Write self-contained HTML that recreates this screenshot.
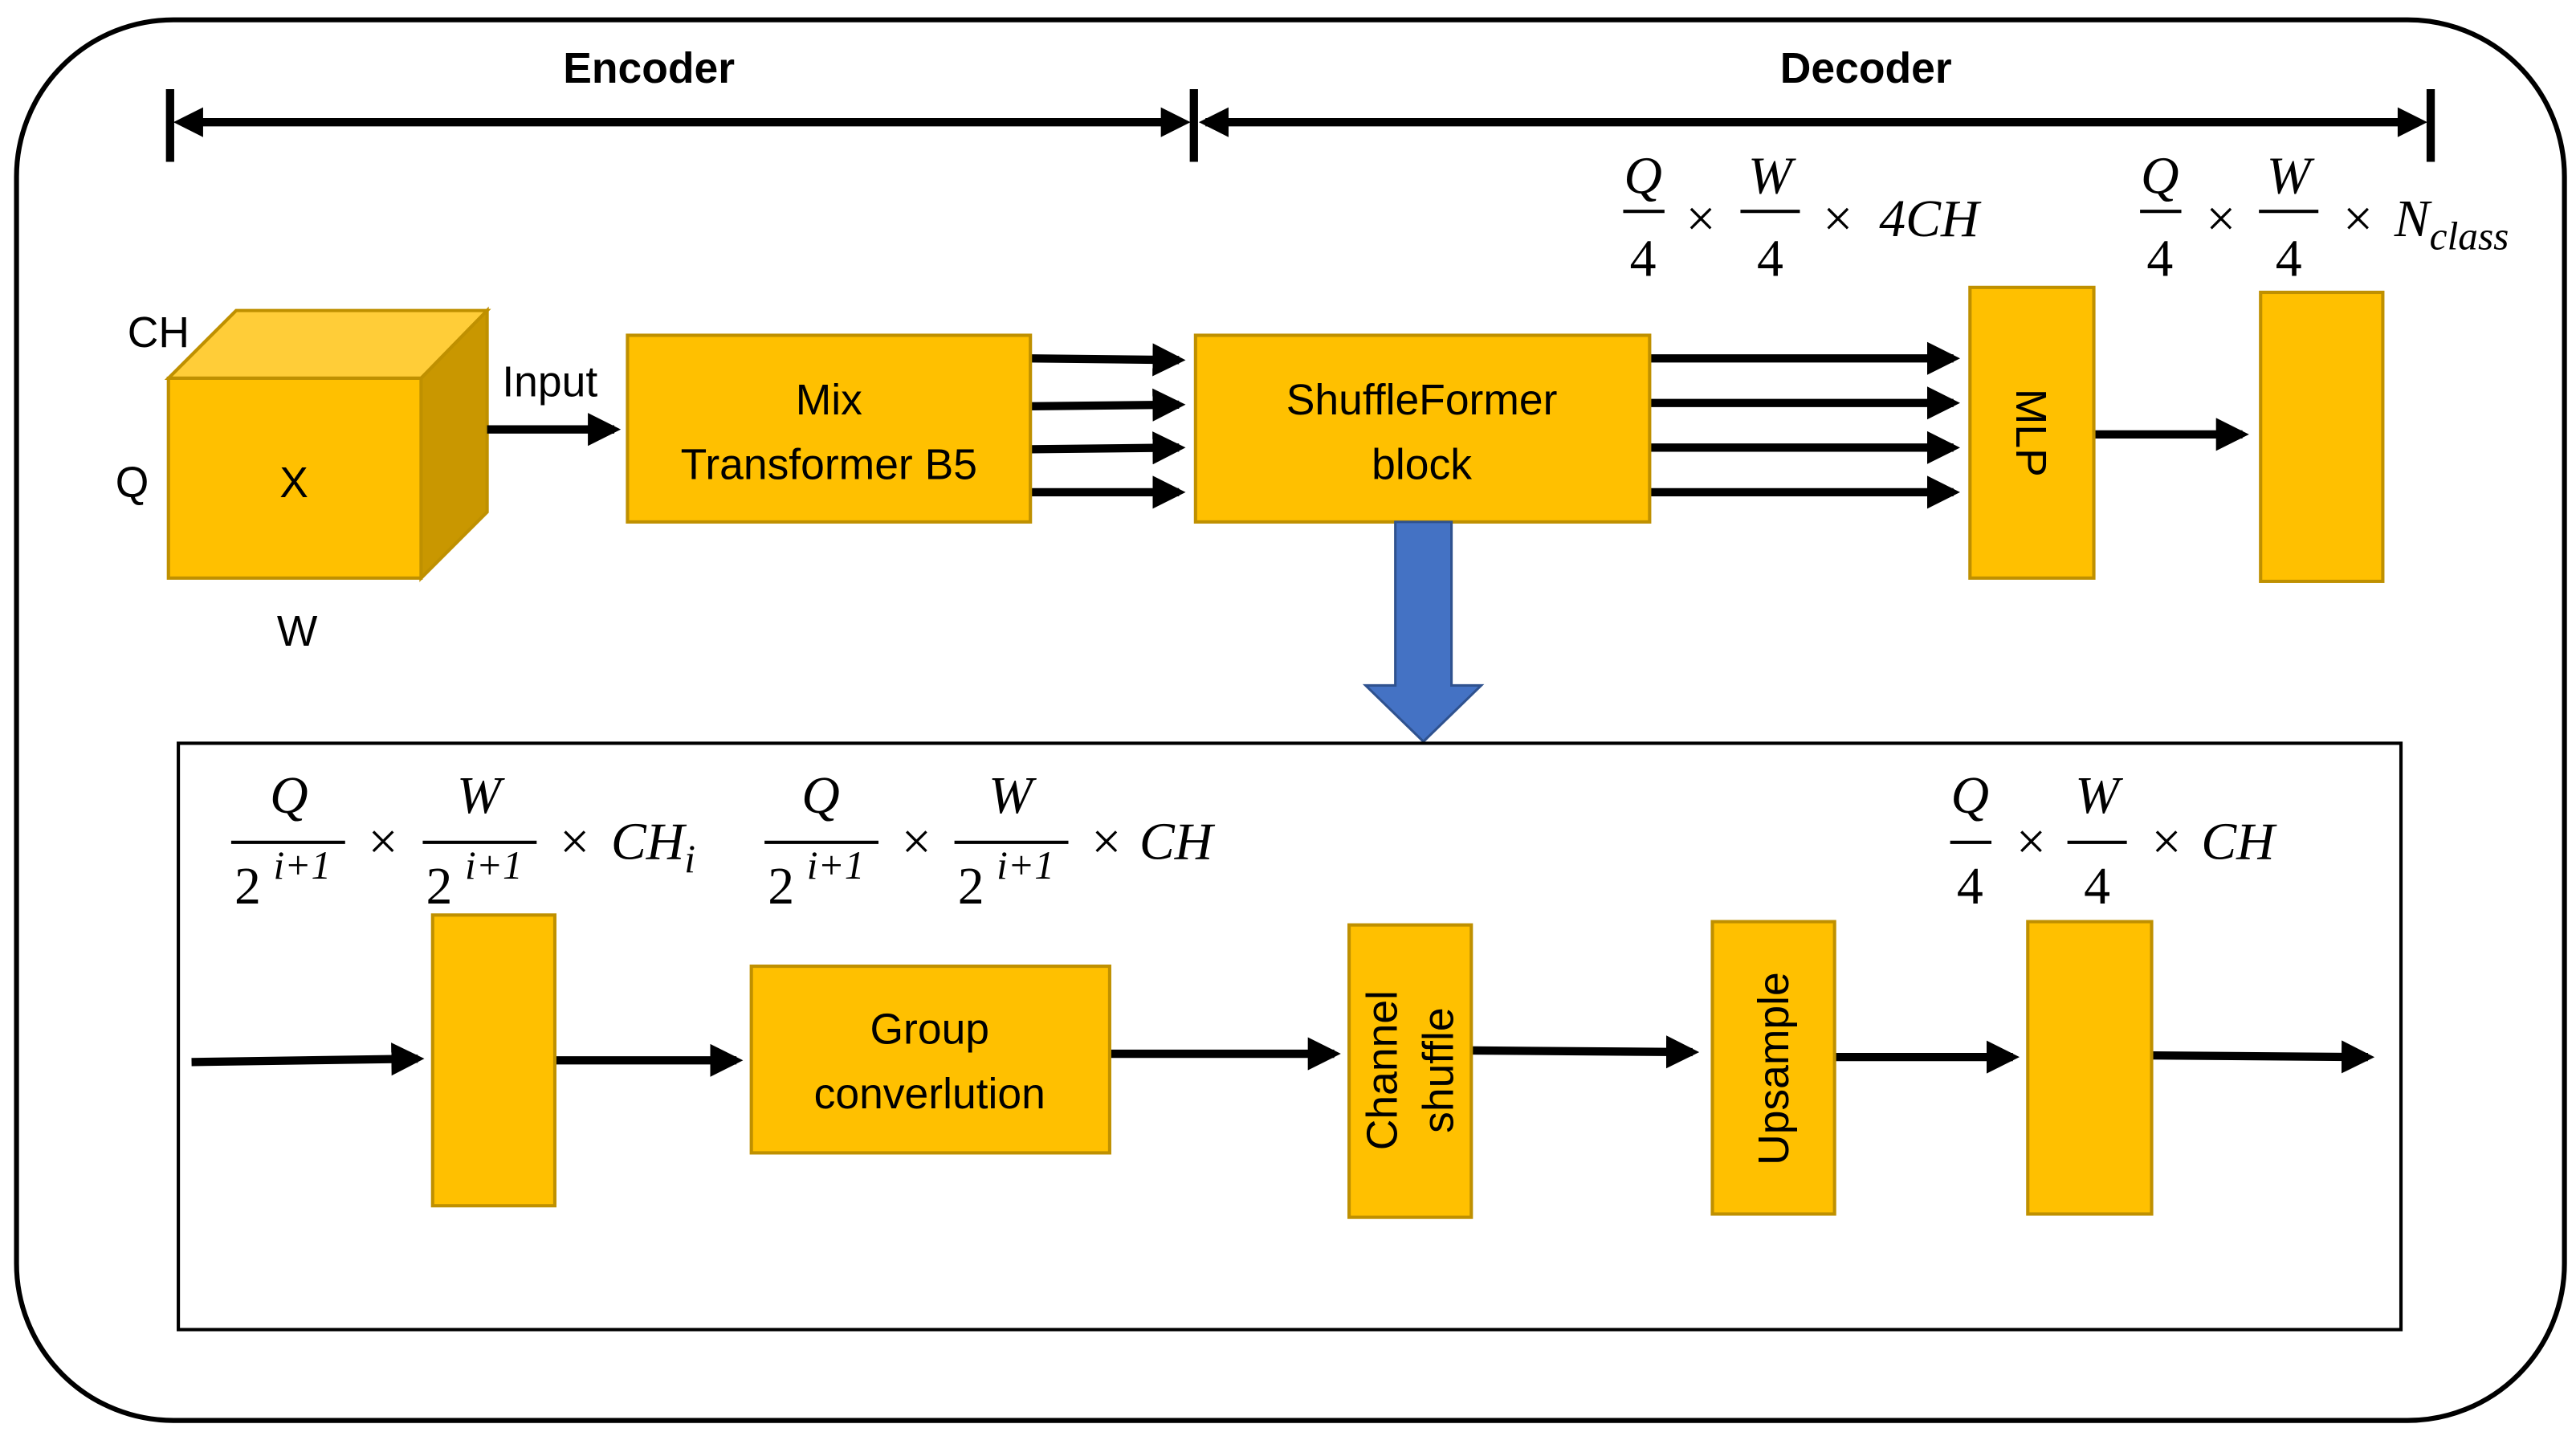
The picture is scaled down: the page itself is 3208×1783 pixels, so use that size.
<!DOCTYPE html>
<html><head><meta charset="utf-8"><style>
html,body{margin:0;padding:0;background:#fff}
svg{display:block}
.s{font-family:"Liberation Sans",sans-serif;fill:#000}
.m{font-family:"Liberation Serif",serif;font-style:italic;fill:#000}
.x{font-family:"Liberation Serif",serif;fill:#000}
</style></head><body>
<svg width="3208" height="1783" viewBox="0 0 1560 867" preserveAspectRatio="none" xmlns="http://www.w3.org/2000/svg">
<defs>
<marker id="ah" markerWidth="4" markerHeight="4" refX="3.2" refY="2" orient="auto" markerUnits="strokeWidth"><path d="M0,0 L4,2 L0,4 z" fill="#000"/></marker>
</defs>
<rect x="0" y="0" width="1560" height="867" fill="#fff"/>
<rect x="10" y="12" width="1543" height="848" rx="95" ry="95" fill="none" stroke="#000" stroke-width="3"/>
<!-- encoder/decoder -->
<g stroke="#000" stroke-width="5">
<line x1="103" y1="54" x2="103" y2="98"/><line x1="723" y1="54" x2="723" y2="98"/><line x1="1472" y1="54" x2="1472" y2="98"/>
<line x1="110" y1="74" x2="716" y2="74"/><line x1="730" y1="74" x2="1465" y2="74"/>
</g>
<path d="M105,74 l18,-9 v18z M721,74 l-18,-9 v18z M726,74 l18,-9 v18z M1470,74 l-18,-9 v18z" fill="#000"/>
<text class="s" x="393" y="50" font-size="26" font-weight="bold" text-anchor="middle">Encoder</text>
<text class="s" x="1130" y="50" font-size="26" font-weight="bold" text-anchor="middle">Decoder</text>
<!-- cube -->
<polygon points="102,229 143,188 295,188 255,229" fill="#FFCD38" stroke="#BF9000" stroke-width="2"/>
<polygon points="255,229 295,188 295,310 255,350" fill="#C99700" stroke="#BF9000" stroke-width="2"/>
<rect x="102" y="229" width="153" height="121" fill="#FFC000" stroke="#BF9000" stroke-width="2"/>
<text class="s" x="96" y="210" font-size="26" text-anchor="middle">CH</text>
<text class="s" x="80" y="301" font-size="26" text-anchor="middle">Q</text>
<text class="s" x="180" y="391" font-size="26" text-anchor="middle">W</text>
<text class="s" x="178" y="301" font-size="26" text-anchor="middle">X</text>
<text class="s" x="333" y="240" font-size="26" text-anchor="middle">Input</text>
<g stroke="#000" stroke-width="5" marker-end="url(#ah)">
<line x1="295" y1="260" x2="372" y2="260"/>
<line x1="624" y1="217" x2="714" y2="218"/><line x1="624" y1="246" x2="714" y2="245"/>
<line x1="624" y1="272" x2="714" y2="271"/><line x1="624" y1="298" x2="714" y2="298"/>
<line x1="999" y1="217" x2="1183" y2="217"/><line x1="999" y1="244" x2="1183" y2="244"/>
<line x1="999" y1="271" x2="1183" y2="271"/><line x1="999" y1="298" x2="1183" y2="298"/>
<line x1="1268" y1="263" x2="1358" y2="263"/>
<line x1="116" y1="643" x2="253" y2="641"/><line x1="336" y1="642" x2="446" y2="642"/>
<line x1="672" y1="638" x2="808" y2="638"/><line x1="891" y1="636" x2="1025" y2="637"/>
<line x1="1111" y1="640" x2="1219" y2="640"/><line x1="1303" y1="639" x2="1434" y2="640"/>
</g>
<g fill="#FFC000" stroke="#BF9000" stroke-width="2">
<rect x="380" y="203" width="244" height="113"/>
<rect x="724" y="203" width="275" height="113"/>
<rect x="1193" y="174" width="75" height="176"/>
<rect x="1369" y="177" width="74" height="175"/>
<rect x="262" y="554" width="74" height="176"/>
<rect x="455" y="585" width="217" height="113"/>
<rect x="817" y="560" width="74" height="177"/>
<rect x="1037" y="558" width="74" height="177"/>
<rect x="1228" y="558" width="75" height="177"/>
</g>
<text class="s" x="502" y="251" font-size="26" text-anchor="middle">Mix</text>
<text class="s" x="502" y="290" font-size="26" text-anchor="middle">Transformer B5</text>
<text class="s" x="861" y="251" font-size="26" text-anchor="middle">ShuffleFormer</text>
<text class="s" x="861" y="290" font-size="26" text-anchor="middle">block</text>
<text class="s" font-size="26" text-anchor="middle" transform="translate(1221,262) rotate(90)">MLP</text>
<text class="s" x="563" y="632" font-size="26" text-anchor="middle">Group</text>
<text class="s" x="563" y="671" font-size="26" text-anchor="middle">converlution</text>
<g transform="translate(854,648) rotate(-90)"><text class="s" x="0" y="-8" font-size="26" text-anchor="middle">Channel</text><text class="s" x="0" y="26" font-size="26" text-anchor="middle">shuffle</text></g>
<text class="s" font-size="26" text-anchor="middle" transform="translate(1083,647) rotate(-90)">Upsample</text>
<!-- blue arrow -->
<polygon points="845,316 879,316 879,415 897,415 862,449 827,415 845,415" fill="#4472C4" stroke="#2F528F" stroke-width="1.5"/>
<rect x="108" y="450" width="1346" height="355" fill="none" stroke="#000" stroke-width="2"/>
<!-- formulas -->
<g font-size="32">
<!-- top1 -->
<text class="m" x="995" y="117" text-anchor="middle">Q</text><line x1="983" y1="128" x2="1008" y2="128" stroke="#000" stroke-width="2"/><text class="x" x="995" y="167" text-anchor="middle">4</text>
<text class="x" x="1030" y="143" text-anchor="middle">×</text>
<text class="m" x="1072" y="117" text-anchor="middle">W</text><line x1="1054" y1="128" x2="1090" y2="128" stroke="#000" stroke-width="2"/><text class="x" x="1072" y="167" text-anchor="middle">4</text>
<text class="x" x="1113" y="143" text-anchor="middle">×</text>
<text class="m" x="1138" y="143">4CH</text>
<!-- top2 -->
<text class="m" x="1308" y="117" text-anchor="middle">Q</text><line x1="1296" y1="128" x2="1321" y2="128" stroke="#000" stroke-width="2"/><text class="x" x="1308" y="167" text-anchor="middle">4</text>
<text class="x" x="1345" y="143" text-anchor="middle">×</text>
<text class="m" x="1386" y="117" text-anchor="middle">W</text><line x1="1368" y1="128" x2="1404" y2="128" stroke="#000" stroke-width="2"/><text class="x" x="1386" y="167" text-anchor="middle">4</text>
<text class="x" x="1428" y="143" text-anchor="middle">×</text>
<text class="m" x="1450" y="143">N<tspan font-size="24" dy="8">class</tspan></text>
<!-- bottom1 -->
<text class="m" x="175" y="492" text-anchor="middle">Q</text><line x1="140" y1="510" x2="209" y2="510" stroke="#000" stroke-width="2"/><text class="x" x="150" y="547" text-anchor="middle">2</text><text class="m" x="183" y="532" font-size="24" text-anchor="middle">i+1</text>
<text class="x" x="232" y="520" text-anchor="middle">×</text>
<text class="m" x="290" y="492" text-anchor="middle">W</text><line x1="256" y1="510" x2="325" y2="510" stroke="#000" stroke-width="2"/><text class="x" x="266" y="547" text-anchor="middle">2</text><text class="m" x="299" y="532" font-size="24" text-anchor="middle">i+1</text>
<text class="x" x="348" y="520" text-anchor="middle">×</text>
<text class="m" x="370" y="520">CH<tspan font-size="24" dy="8">i</tspan></text>
<!-- bottom2 -->
<text class="m" x="497" y="492" text-anchor="middle">Q</text><line x1="463" y1="510" x2="532" y2="510" stroke="#000" stroke-width="2"/><text class="x" x="473" y="547" text-anchor="middle">2</text><text class="m" x="506" y="532" font-size="24" text-anchor="middle">i+1</text>
<text class="x" x="555" y="520" text-anchor="middle">×</text>
<text class="m" x="612" y="492" text-anchor="middle">W</text><line x1="578" y1="510" x2="647" y2="510" stroke="#000" stroke-width="2"/><text class="x" x="588" y="547" text-anchor="middle">2</text><text class="m" x="621" y="532" font-size="24" text-anchor="middle">i+1</text>
<text class="x" x="670" y="520" text-anchor="middle">×</text>
<text class="m" x="690" y="520">CH</text>
<!-- bottom3 -->
<text class="m" x="1193" y="492" text-anchor="middle">Q</text><line x1="1181" y1="510" x2="1206" y2="510" stroke="#000" stroke-width="2"/><text class="x" x="1193" y="547" text-anchor="middle">4</text>
<text class="x" x="1230" y="520" text-anchor="middle">×</text>
<text class="m" x="1270" y="492" text-anchor="middle">W</text><line x1="1252" y1="510" x2="1288" y2="510" stroke="#000" stroke-width="2"/><text class="x" x="1270" y="547" text-anchor="middle">4</text>
<text class="x" x="1312" y="520" text-anchor="middle">×</text>
<text class="m" x="1333" y="520">CH</text>
</g>
</svg>
</body></html>
